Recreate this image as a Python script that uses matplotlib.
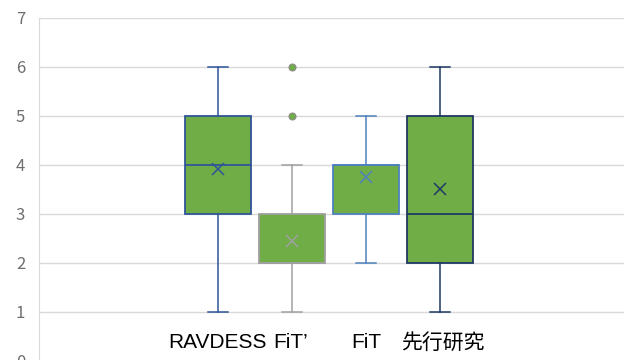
import matplotlib
matplotlib.use("Agg")
import matplotlib.pyplot as plt

plt.rcParams['font.family'] = ['Liberation Sans', 'Noto Sans CJK JP', 'DejaVu Sans']

# summary statistics per group (Excel-style box & whisker)
groups = ["RAVDESS", "FiT\u2019", "FiT", "先行研究"]
whislo = [1, 1, 2, 1]
q1 = [3, 2, 3, 2]
med = [4, 2, 4, 3]
q3 = [5, 3, 4, 5]
whishi = [6, 4, 5, 6]
means = [3.92, 2.45, 3.76, 3.51]
fliers = [[], [5, 6], [], []]

edge_colors = ["#2F5597", "#A0A0A0", "#4F81BD", "#203864"]
fill = "#70AD47"

stats = []
for i, g in enumerate(groups):
    stats.append(dict(label=g, whislo=whislo[i], q1=q1[i], med=med[i], q3=q3[i],
                      whishi=whishi[i], mean=means[i], fliers=fliers[i]))

fig = plt.figure(figsize=(6.27, 3.6), dpi=100)
ax = fig.add_axes([39/627, -0.6/360, 585/627, 342.6/360])

pos = [1, 2, 3, 4]
bp = ax.bxp(stats, positions=pos, widths=0.89, capwidths=0.27, patch_artist=True,
            showmeans=True, showfliers=True, zorder=3)

for i in range(4):
    c = edge_colors[i]
    bp['boxes'][i].set(facecolor=fill, edgecolor=c, linewidth=1.3)
    bp['medians'][i].set(color=c, linewidth=1.3)
    for w in bp['whiskers'][2*i:2*i+2]:
        w.set(color=c, linewidth=1.1)
    for cp in bp['caps'][2*i:2*i+2]:
        cp.set(color=c, linewidth=1.1)
    bp['means'][i].set(marker='x', markeredgecolor=c, markerfacecolor=c,
                       markersize=9, markeredgewidth=1.1)
    bp['fliers'][i].set(marker='o', markerfacecolor=fill, markeredgecolor='#8C8C8C',
                        markersize=5, markeredgewidth=0.8)

ax.set_xlim(1 - 179/74, 1 - 179/74 + 585/74)
ax.set_ylim(0, 7)
ax.set_yticks(range(8))
ax.yaxis.grid(True, color='#D9D9D9', linewidth=1)
ax.set_axisbelow(True)
ax.set_xticks([])
for s in ['top', 'right', 'bottom']:
    ax.spines[s].set_visible(False)
ax.spines['left'].set_color('#D9D9D9')
ax.tick_params(axis='y', length=0, pad=10, labelsize=12, labelcolor='#6E6E6E')
for lab in ax.get_yticklabels():
    lab.set_fontfamily(['Noto Sans CJK JP', 'DejaVu Sans'])

# category names sit just above the bottom of the frame
label_x = [1.0, 1.98, 3.0, 4.04]
for x, g in zip(label_x, groups):
    ax.text(x, 0.36, g, ha='center', va='center', fontsize=15, color='black')

fig.savefig("out.png", dpi=100)
